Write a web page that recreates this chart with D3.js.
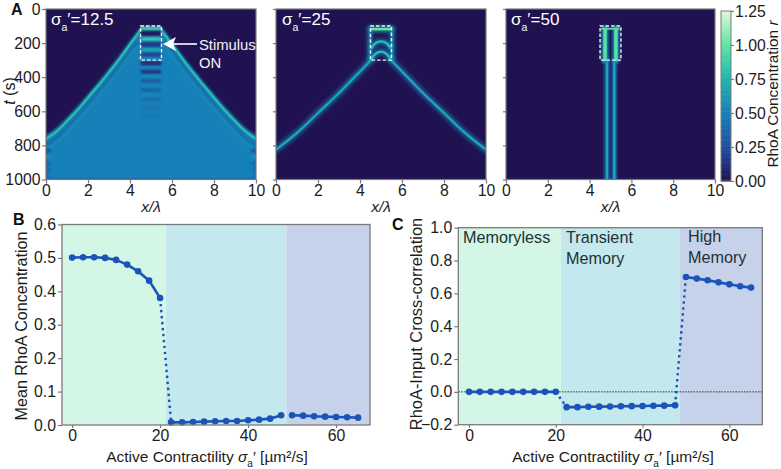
<!DOCTYPE html>
<html><head><meta charset="utf-8">
<script src="https://cdn.jsdelivr.net/npm/d3@7"></script>
<style>
html,body{margin:0;padding:0;background:#fff}
svg{display:block}
text{font-family:"Liberation Sans",Arial,sans-serif;fill:#1c1c1c}
</style></head><body>
<svg id="c" width="781" height="469"></svg>
<script>
// ---------- data ----------
const rhoStops  = [0, 0.125, 0.25, 0.5, 0.75, 1.0, 1.25];
const rhoColors = ["#201250", "#23307f", "#21509f", "#1680b8", "#1fb7ab", "#62e2a4", "#e0fbd6"];
const heatXTicks = [0, 2, 4, 6, 8, 10];
const heatTTicks = [0, 200, 400, 600, 800, 1000];
const barTicks = [0, 0.25, 0.5, 0.75, 1.0, 1.25];
const stimulus = [4.5, 5.5, 100, 300];

// panel A1 (sigma 12.5): left half of the travelling front, mirrored
const a1Crest  = [[0,762],[0.3,738],[0.6,708],[1,658],[1.5,593],[2,521],[2.5,448],[3,373],[3.5,293],[4,208],[4.3,158],[4.55,115]];
const a1Trough = [[0,800],[0.3,775],[0.6,745],[1,695],[1.5,628],[2,556],[2.5,483],[3,408],[3.5,328],[4,243],[4.3,195]];
const a1Ripple = [[0,825],[0.3,800],[0.6,772],[1,722],[1.5,656],[2,585],[2.5,512],[3,437],[3.5,358],[4,273],[4.3,225]];
const a1Edge   = [[0,740],[0.3,716],[0.6,686],[1,636],[1.5,571],[2,499],[2.5,426],[3,351],[3.5,271],[4,186],[4.3,136],[4.55,100]];
const a1BandT  = [116,143,176,208,240,268,295,318,345,368,395,422,448,475,503,530,583,632];
const a1BandV  = [1.0,0.03,0.92,0.14,0.72,0.2,0.6,0.12,0.58,0.14,0.58,0.26,0.56,0.32,0.55,0.37,0.43,0.44];
const a1BandW  = [2.5,5,3,4.5,3,4.5,2.5,4.5,2,4,2,3,2,3,2,2.5,2.5,2];
const a1EdgeT  = [830,868,905,945,985];
const a1EdgeV  = [0.2,0.6,0.33,0.37,0.4];

// panel A2 (sigma 25)
const a2Crest = [[0,825],[1,727],[2,610],[3,493],[4,366],[4.4,315],[4.55,295]];
const a2Side  = [[4.47,300],[4.47,110]];
const a2Top   = [[4.55,118],[5.45,118]];
const a2ArchA = [[4.55,228],[4.7,205],[4.85,193],[5,190],[5.15,193],[5.3,205],[5.45,228]];
const a2ArchB = [[4.55,292],[4.7,268],[4.85,254],[5,250],[5.15,254],[5.3,268],[5.45,292]];

// panel A3 (sigma 50)
const a3Lines = [4.83, 5.18];
const a3Inner = [4.74, 5.26];
const a3Top   = [[4.6,116],[5.4,116]];

// panels B and C
const sigma = [0,2.5,5,7.5,10,12.5,15,17.5,20,22.5,25,27.5,30,32.5,35,37.5,40,42.5,45,47.5,50,52.5,55,57.5,60,62.5,65];
const meanRho = [0.501,0.502,0.502,0.5,0.494,0.48,0.46,0.432,0.38,0.008,0.008,0.009,0.01,0.011,0.012,0.012,0.014,0.016,0.019,0.029,0.029,0.028,0.026,0.025,0.024,0.023,0.022];
const xcorr = [0,0,0,0,0,0,0,0,0,-0.093,-0.093,-0.091,-0.09,-0.089,-0.088,-0.087,-0.086,-0.085,-0.084,-0.082,0.70,0.69,0.68,0.667,0.655,0.643,0.635];
const regimeEdgesB = [-2.3, 21.3, 48.7, 67.7];
const regimeEdgesC = [-2.47, 21.2, 48.6, 67.6];
const regimeColors = ["#d3f6e7","#c3e8ee","#c6d2ea"];
const xTicksLine = [0,20,40,60];
const yTicksB = [0,0.1,0.2,0.3,0.4,0.5,0.6];
const yTicksC = [-0.2,0,0.2,0.4,0.6,0.8,1.0];

// ---------- helpers ----------
const svg = d3.select("#c");
const rho = d3.scaleLinear().domain(rhoStops).range(rhoColors).clamp(true);
const defs = svg.append("defs");
[["b05",0.6],["b1",1.0],["b2",1.9]].forEach(([id,s])=>{
  defs.append("filter").attr("id",id)
    .attr("filterUnits","userSpaceOnUse").attr("x",0).attr("y",0).attr("width",781).attr("height",469)
    .append("feGaussianBlur").attr("stdDeviation",s);
});
const SPINE="#7a7a7a";
const TICK=15.8;
function styleAxis(g,size){
  g.selectAll("path.domain").remove();
  g.selectAll("line").attr("stroke",SPINE).attr("stroke-width",1.2);
  g.selectAll("text").style("font-size",size+"px").attr("fill","#1c1c1c");
}
function sigmaLabel(sel,x,y,rest,size){
  const t=sel.append("text").attr("x",x).attr("y",y).style("font-size",size+"px").style("fill","#fff");
  t.append("tspan").text("σ");
  t.append("tspan").text("a").attr("dy",6).style("font-size",(size*0.62)+"px");
  t.append("tspan").text("′"+rest).attr("dy",-6);
}
function heatPanel(x0,x1,id,showY){
  const y0=9,y1=179.5;
  const x=d3.scaleLinear().domain([0,10]).range([x0,x1]);
  const y=d3.scaleLinear().domain([0,1000]).range([y0,y1]);
  defs.append("clipPath").attr("id",id).append("rect").attr("x",x0).attr("y",y0).attr("width",x1-x0).attr("height",y1-y0);
  const root=svg.append("g");
  const g=root.append("g").attr("clip-path",`url(#${id})`);
  g.append("rect").attr("x",x0).attr("y",y0).attr("width",x1-x0).attr("height",y1-y0).attr("fill",rho(0));
  const line=d3.line().x(d=>x(d[0])).y(d=>y(d[1])).curve(d3.curveCatmullRom);
  const mirror=a=>a.map(d=>[10-d[0],d[1]]);
  const api={x,y,g,line,mirror,
    stroke(pts,v,w,f){
      g.append("path").attr("d",line(pts)).attr("fill","none").attr("stroke",rho(v)).attr("stroke-width",w)
        .attr("stroke-linecap","round").attr("filter",f?`url(#${f})`:null);
    },
    both(pts,v,w,f){api.stroke(pts,v,w,f);api.stroke(mirror(pts),v,w,f);},
    finish(){
      root.append("rect").attr("x",x(stimulus[0])).attr("y",y(stimulus[2]))
        .attr("width",x(stimulus[1])-x(stimulus[0])).attr("height",y(stimulus[3])-y(stimulus[2]))
        .attr("fill","none").attr("stroke","#f2f2f2").attr("stroke-width",1.4).attr("stroke-dasharray","3.5 2");
      root.append("rect").attr("x",x0).attr("y",y0).attr("width",x1-x0).attr("height",y1-y0)
        .attr("fill","none").attr("stroke",SPINE).attr("stroke-width",1.2);
      const ax=root.append("g").attr("transform",`translate(0,${y1})`)
        .call(d3.axisBottom(x).tickValues(heatXTicks).tickSize(4).tickPadding(1).tickFormat(d3.format("d")));
      styleAxis(ax,TICK);
      const ay=root.append("g").attr("transform",`translate(${x0},0)`)
        .call(d3.axisLeft(y).tickValues(heatTTicks).tickSize(showY?4:3).tickPadding(1.5).tickFormat(d3.format("d")));
      styleAxis(ay,TICK);
      if(!showY) ay.selectAll("text").remove();
      root.append("text").attr("x",(x0+x1)/2).attr("y",212).attr("text-anchor","middle").style("font-size","15.5px").style("font-style","italic").text("x/λ");
    }};
  return api;
}

// ---------- panel A1 ----------
{
  const p=heatPanel(46,256,"h1",true);
  const right=p.mirror(a1Edge).reverse();
  const poly=[[0,1000],...a1Edge,...right,[10,1000]];
  p.g.append("path").attr("d",d3.line().x(d=>p.x(d[0])).y(d=>p.y(d[1]))(poly)).attr("fill",rho(0.5)).attr("filter","url(#b1)");
  p.both(a1Trough,0.36,2.2,"b1");
  p.both(a1Ripple,0.58,1.6,"b1");
  p.both(a1Crest,0.78,2.4,"b05");
  a1BandT.forEach((t,i)=>p.stroke([[4.6,t],[5.4,t]],a1BandV[i],a1BandW[i],"b1"));
  a1EdgeT.forEach((t,i)=>{
    p.stroke([[-0.2,t],[0.15,t]],a1EdgeV[i],3,"b1");
    p.stroke([[9.85,t],[10.2,t]],a1EdgeV[i],3,"b1");
  });
  p.finish();
  sigmaLabel(svg,51,25,"=12.5",17);
  svg.append("line").attr("x1",197).attr("x2",172).attr("y1",44).attr("y2",44).attr("stroke","#fff").attr("stroke-width",1.6);
  svg.append("path").attr("d",d3.line()([[163,44],[176,37],[173,44],[176,51]])+"Z").attr("fill","#fff");
  [["Stimulus",50],["ON",68]].forEach(([s,yy])=>svg.append("text").attr("x",199).attr("y",yy).text(s).style("font-size","14.8px").style("fill","#f4f4f4"));
  const yt=svg.append("text").attr("transform","translate(15,91) rotate(-90)").attr("text-anchor","middle").style("font-size","16px");
  yt.append("tspan").text("t").style("font-style","italic");
  yt.append("tspan").text(" (s)");
}
// ---------- panel A2 ----------
{
  const p=heatPanel(276,486,"h2",false);
  p.both(a2Crest,0.42,5,"b2");
  p.both(a2Side,0.5,4,"b2");
  p.stroke(a2Top,0.7,5,"b2");
  p.stroke(a2ArchA,0.45,5,"b2");
  p.stroke(a2ArchB,0.45,5,"b2");
  p.both(a2Crest,0.68,2.2,"b05");
  p.both(a2Side,0.55,1.8,"b1");
  p.stroke(a2ArchA,0.78,2.4,"b05");
  p.stroke(a2ArchB,0.78,2.4,"b05");
  p.stroke(a2Top,1.02,2.4,"b05");
  p.finish();
  sigmaLabel(svg,282,25,"=25",17);
}
// ---------- panel A3 ----------
{
  const p=heatPanel(506,715,"h3",false);
  a3Lines.forEach(c=>{
    p.stroke([[c,300],[c,1010]],0.36,5.5,"b1");
    p.stroke([[c,300],[c,1010]],0.68,2.3,"b05");
  });
  a3Inner.forEach(c=>{
    p.stroke([[c,118],[c,300]],0.55,7,"b1");
    p.stroke([[c,118],[c,296]],0.98,3.4,"b05");
  });
  p.stroke(a3Top,0.95,2,"b05");
  p.finish();
  sigmaLabel(svg,511,25,"=50",17);
}
// ---------- colour bar ----------
{
  const y=d3.scaleLinear().domain([0,1.25]).range([181,11]);
  const vals=d3.range(0,1.25,0.0125);
  svg.append("g").selectAll("rect").data(vals).join("rect")
    .attr("x",721).attr("width",10).attr("y",d=>y(d+0.0125)).attr("height",d=>y(d)-y(d+0.0125)+0.5).attr("fill",d=>rho(d));
  svg.append("rect").attr("x",721).attr("y",11).attr("width",10).attr("height",170).attr("fill","none").attr("stroke",SPINE).attr("stroke-width",1);
  const ax=svg.append("g").attr("transform","translate(731,0)")
    .call(d3.axisRight(y).tickValues(barTicks).tickSize(3).tickPadding(1).tickFormat(d3.format(".2f")));
  styleAxis(ax,TICK);
  const t=svg.append("text").attr("transform","translate(778,94) rotate(-90)").attr("text-anchor","middle").style("font-size","15.4px");
  t.append("tspan").text("RhoA Concentration ");
  t.append("tspan").text("r").style("font-style","italic");
}
// ---------- line panels ----------
function linePanel(o){
  const x=d3.scaleLinear().domain([o.edges[0],o.edges[3]]).range([o.left,o.right]);
  const y=d3.scaleLinear().domain(o.yDomain).range([o.bottom,o.top]);
  const root=svg.append("g");
  regimeColors.forEach((c,i)=>root.append("rect").attr("x",x(o.edges[i])).attr("y",o.top)
    .attr("width",x(o.edges[i+1])-x(o.edges[i])).attr("height",o.bottom-o.top).attr("fill",c));
  if(o.zero) root.append("line").attr("x1",o.left).attr("x2",o.right).attr("y1",y(0)).attr("y2",y(0))
    .attr("stroke","#333").attr("stroke-width",1).attr("stroke-dasharray","1.6 1.2");
  const pts=sigma.map((s,i)=>[s,o.values[i]]);
  const line=d3.line().x(d=>x(d[0])).y(d=>y(d[1]));
  const BLUE="#1b54b8";
  o.solid.forEach(([a,b])=>root.append("path").attr("d",line(pts.slice(a,b+1))).attr("fill","none").attr("stroke",BLUE).attr("stroke-width",2.6));
  o.dotted.forEach(([a,b])=>root.append("path").attr("d",line(pts.slice(a,b+1))).attr("fill","none").attr("stroke",BLUE).attr("stroke-width",2.4).attr("stroke-dasharray","2.4 3.6"));
  root.append("g").selectAll("circle").data(pts).join("circle").attr("cx",d=>x(d[0])).attr("cy",d=>y(d[1])).attr("r",3.3).attr("fill",BLUE);
  root.append("rect").attr("x",o.left).attr("y",o.top).attr("width",o.right-o.left).attr("height",o.bottom-o.top)
    .attr("fill","none").attr("stroke",SPINE).attr("stroke-width",1.3);
  const ax=root.append("g").attr("transform",`translate(0,${o.bottom})`)
    .call(d3.axisBottom(x).tickValues(xTicksLine).tickSize(3).tickPadding(2).tickFormat(d3.format("d")));
  styleAxis(ax,TICK);
  const ay=root.append("g").attr("transform",`translate(${o.left},0)`)
    .call(d3.axisLeft(y).tickValues(o.yTicks).tickSize(4).tickPadding(2).tickFormat(d3.format(".1f")));
  styleAxis(ay,TICK);
  const t=root.append("text").attr("x",o.xLabelX).attr("y",462).attr("text-anchor","middle").style("font-size","15.5px");
  t.append("tspan").text("Active Contractility ");
  t.append("tspan").text("σ").style("font-style","italic");
  t.append("tspan").text("a").attr("dy",5).style("font-size","10px");
  t.append("tspan").text("′ [µm²/s]").attr("dy",-5);
  root.append("text").attr("transform",`translate(${o.yLabelX},${o.yLabelY}) rotate(-90)`).attr("text-anchor","middle").style("font-size",o.yLabelSize+"px").text(o.yLabel);
}
linePanel({left:62,right:370,top:224.5,bottom:425,edges:regimeEdgesB,yDomain:[0,0.6],values:meanRho,yTicks:yTicksB,
  solid:[[0,8],[9,19],[20,26]],dotted:[[8,9]],xLabelX:207,yLabel:"Mean RhoA Concentration",yLabelX:27,yLabelY:326,yLabelSize:16.1});
linePanel({left:458.3,right:762.3,top:227.7,bottom:424.7,edges:regimeEdgesC,yDomain:[-0.2,1.0],values:xcorr,yTicks:yTicksC,zero:true,
  solid:[[0,8],[9,19],[20,26]],dotted:[[8,9],[19,20]],xLabelX:613,yLabel:"RhoA-Input Cross-correlation",yLabelX:422,yLabelY:324,yLabelSize:16.4});
// ---------- annotations ----------
[["Memoryless",463,243],["Transient",566,243],["Memory",566,264],["High",688,242],["Memory",688,263]]
  .forEach(([s,xx,yy])=>svg.append("text").attr("x",xx).attr("y",yy).text(s).style("font-size","16.2px").style("fill","#243038"));
[["A",11,15],["B",13,225],["C",392,230]]
  .forEach(([s,xx,yy])=>svg.append("text").attr("x",xx).attr("y",yy).text(s).style("font-size","16px").style("font-weight","bold").style("fill","#111"));
</script>
</body></html>
